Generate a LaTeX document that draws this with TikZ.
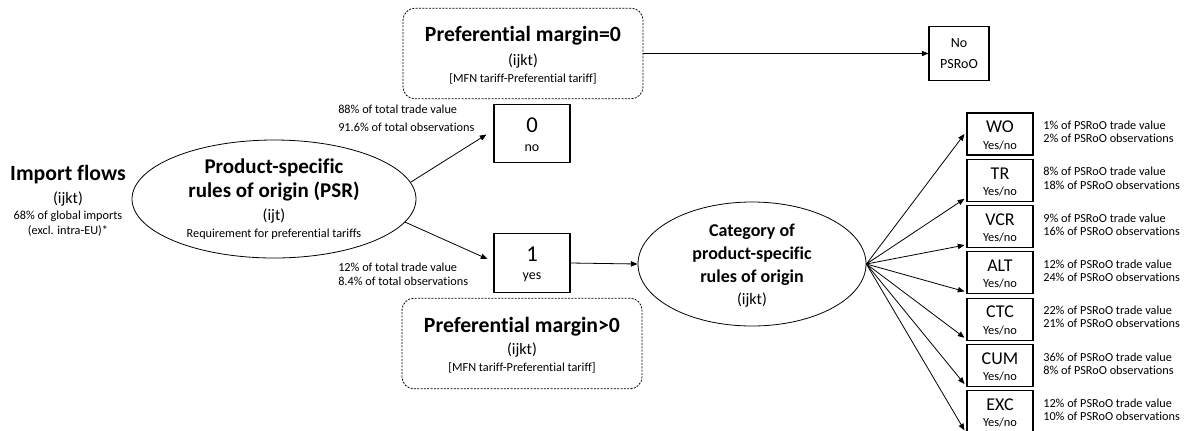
\documentclass[tikz,border=0pt]{standalone}
\usepackage{fontspec}
\setmainfont{Carlito}[Ligatures=NoCommon]
\usetikzlibrary{shapes.geometric,arrows.meta,calc}

\newcommand{\fsel}[2]{\fontsize{#1}{#2}\selectfont}

\begin{document}
\begin{tikzpicture}[x=0.75pt,y=-0.75pt,
  every node/.style={inner sep=0pt, align=center},
  flow/.style={-{Triangle[length=5pt,width=4pt]}, line width=0.6pt},
  marginbox/.style={draw, dash pattern=on 1.5pt off 1pt, rounded corners=9pt, minimum width=180pt, minimum height=68pt, line width=0.6pt},
  valbox/.style={draw, line width=0.8pt, minimum width=57pt, minimum height=44pt},
  catbox/.style={draw, line width=0.8pt, minimum width=49.5pt, minimum height=31.5pt},
  oval/.style={draw, ellipse, line width=0.6pt},
  bigtxt/.style={font=\fsel{16.3}{18}\bfseries},
  midtxt/.style={font=\fsel{12}{14}},
  smalltxt/.style={font=\fsel{9.2}{11.2}}
]

\useasboundingbox (0,0) rectangle (1184,430);

% import flows
\node (imp) at (68,175) [bigtxt] {Import flows};
\node (impidx) at (68,199) [midtxt] {(ijkt)};
\node (impshare) at (68,224) [smalltxt] {68\% of global imports\\(excl. intra-EU)*};

% product-specific rules
\node (psr) at (274,199) [oval, minimum width=213pt, minimum height=88.5pt] {};
\node (psrtitle) at (274,180) [font=\fsel{15.75}{18}\bfseries] {Product-specific\\rules of origin (PSR)};
\node (psridx) at (274,216) [midtxt] {(ijt)};
\node (psrnote) at (274,234) [smalltxt] {Requirement for preferential tariffs};

% preferential margins
\node (pm0) at (523,53.5) [marginbox] {};
\node (pm0title) at (523,36) [bigtxt] {Preferential margin=0};
\node (pm0idx) at (523,61) [midtxt] {(ijkt)};
\node (pm0note) at (523,79) [smalltxt] {[MFN tariff-Preferential tariff]};

\node (pm1) at (522,343.5) [marginbox] {};
\node (pm1title) at (522,327) [bigtxt] {Preferential margin>0};
\node (pm1idx) at (522,350) [midtxt] {(ijkt)};
\node (pm1note) at (522,368) [smalltxt] {[MFN tariff-Preferential tariff]};

\node (nops) at (959,53.5) [draw, line width=0.8pt, minimum width=45pt, minimum height=41pt, font=\fsel{10.5}{16}] {No\\PSRoO};

% 0 / 1
\node (zero) at (532,133.5) [valbox] {};
\node (zeronum) at (532,125) [font=\fsel{17}{18}] {0};
\node (zerotxt) at (532,148) [font=\fsel{10.5}{12}] {no};
\node (one) at (532,263) [valbox] {};
\node (onenum) at (532,254) [font=\fsel{17}{18}] {1};
\node (onetxt) at (532,277) [font=\fsel{10.5}{12}] {yes};

\node (zeroshare) at (338,118) [anchor=west, align=left, font=\fsel{9.2}{13.5}] {88\% of total trade value\\91.6\% of total observations};
\node (oneshare) at (338,274.5) [anchor=west, align=left, font=\fsel{9.2}{10.8}] {12\% of total trade value\\8.4\% of total observations};

% category
\node (cat) at (752,264) [oval, minimum width=171pt, minimum height=93pt] {};
\node (cattitle) at (752,255) [font=\fsel{13.5}{17.25}\bfseries] {Category of\\product-specific\\rules of origin};
\node (catidx) at (752,300) [midtxt] {(ijkt)};

\foreach \nm/\tv/\ob [count=\i from 0] in {WO/1/2, TR/8/18, VCR/9/16, ALT/12/24, CTC/22/21, CUM/36/8, EXC/12/10} {
  \node (c\i) at (1000,{134+46.3*\i}) [catbox] {};
  \node (c\i name) at (1000,{127+46.3*\i}) [font=\fsel{13.5}{14}] {\nm};
  \node (c\i yn) at (1000,{145+46.3*\i}) [font=\fsel{9.3}{11}] {Yes/no};
  \node (c\i share) at (1043,{132+46.3*\i}) [anchor=west, align=left, font=\fsel{9.2}{9.8}] {\tv\% of PSRoO trade value\\\ob\% of PSRoO observations};
}

\draw [flow] (psr.7) -- ($(zero.west)+(-7,1)$);
\draw [flow] (psr.-10) -- ($(one.west)+(-6,-4)$);
\draw [flow] (one.east) -- (cat.west);
\draw [flow] (pm0.east) -- (nops.west);
\draw [flow] (cat.east) -- ($(c0.west)+(-2,0)$);
\foreach \i in {1,...,6}
  \draw [flow] (cat.east) -- ($(c\i.south west)+(-2,-3)$);

\end{tikzpicture}
\end{document}
